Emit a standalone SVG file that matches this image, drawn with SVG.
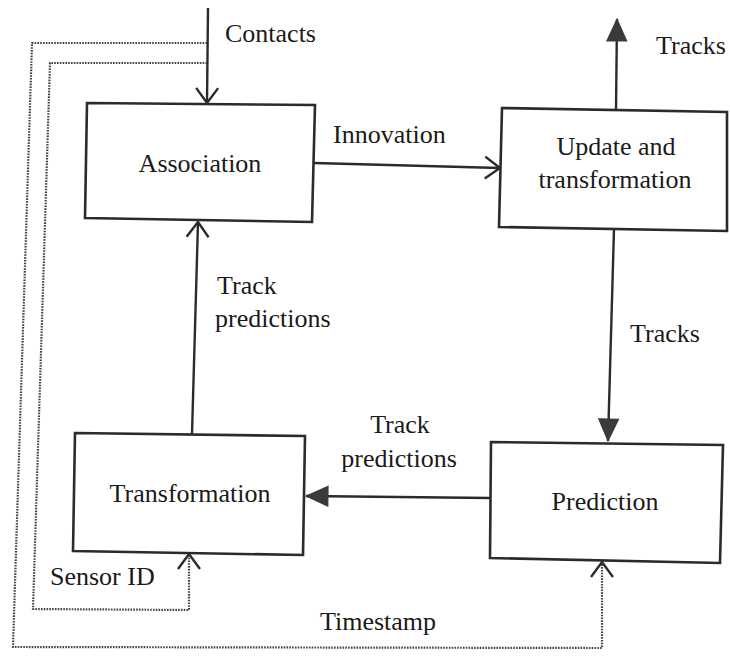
<svg xmlns="http://www.w3.org/2000/svg" width="730" height="656" viewBox="0 0 730 656">
<style>
  .box { fill: #fff; stroke: #2b2b2b; stroke-width: 2.6; stroke-linejoin: miter; }
  .lbl { font-family: "Liberation Serif", "Times New Roman", serif; font-size: 26px; fill: #1a1a1a; }
  .mid { text-anchor: middle; }
  .solid { fill: none; stroke: #2b2b2b; stroke-width: 2.4; }
  .dot { fill: none; stroke: #444; stroke-width: 2.2; stroke-dasharray: 1.6 1.2; }
</style>
<defs>
  <marker id="open" markerUnits="userSpaceOnUse" markerWidth="34" markerHeight="34" viewBox="-17 -17 34 34" refX="0" refY="0" orient="auto">
    <path d="M -15 -11 L 0 0 L -15 11" fill="none" stroke="#2b2b2b" stroke-width="2.4"/>
  </marker>
  <marker id="fill" markerUnits="userSpaceOnUse" markerWidth="30" markerHeight="30" viewBox="-25 -15 30 30" refX="0" refY="0" orient="auto">
    <path d="M -22 -10 L 0 0 L -22 10 Z" fill="#3a3a3a" stroke="#3a3a3a" stroke-width="1"/>
  </marker>
</defs>

<g id="connectors">
  <!-- Contacts -->
  <line class="solid" x1="208" y1="8" x2="207" y2="103" marker-end="url(#open)"/>
  <!-- Innovation -->
  <line class="solid" x1="314" y1="163" x2="500" y2="168" marker-end="url(#open)"/>
  <!-- Tracks out -->
  <line class="solid" x1="616" y1="110" x2="617" y2="19" marker-end="url(#fill)"/>
  <!-- Tracks down -->
  <line class="solid" x1="614" y1="229" x2="608" y2="441" marker-end="url(#fill)"/>
  <!-- Track predictions (Prediction -> Transformation) -->
  <line class="solid" x1="490" y1="498" x2="306" y2="496" marker-end="url(#fill)"/>
  <!-- Track predictions (Transformation -> Association) -->
  <line class="solid" x1="192" y1="434" x2="198" y2="222" marker-end="url(#open)"/>
  <!-- Timestamp dotted -->
  <polyline class="dot" points="207,43 32,43 13,647 602,648 602,562" marker-end="url(#open)"/>
  <!-- Sensor ID dotted -->
  <polyline class="dot" points="207,63 50,63 33,609 189,610 189,554" marker-end="url(#open)"/>
</g>

<g id="association">
  <path class="box" d="M 87 103 L 315 105 L 312 222 L 85 218 Z"/>
  <text class="lbl mid" x="200" y="172">Association</text>
</g>

<g id="update">
  <path class="box" d="M 502 108 L 727 112 L 727 231 L 499 227 Z"/>
  <text class="lbl mid" x="616" y="155">Update and</text>
  <text class="lbl mid" x="615" y="188">transformation</text>
</g>

<g id="prediction">
  <path class="box" d="M 491 442 L 723 445 L 720 563 L 490 558 Z"/>
  <text class="lbl mid" x="605" y="510">Prediction</text>
</g>

<g id="transformation">
  <path class="box" d="M 75 433 L 305 436 L 303 555 L 73 551 Z"/>
  <text class="lbl mid" x="190" y="502">Transformation</text>
</g>

<g id="labels">
  <text class="lbl" x="225" y="42">Contacts</text>
  <text class="lbl" x="333" y="143">Innovation</text>
  <text class="lbl" x="656" y="54">Tracks</text>
  <text class="lbl" x="630" y="342">Tracks</text>
  <text class="lbl" x="217" y="294">Track</text>
  <text class="lbl" x="215" y="327">predictions</text>
  <text class="lbl mid" x="400" y="433">Track</text>
  <text class="lbl mid" x="399" y="467">predictions</text>
  <text class="lbl" x="50" y="585">Sensor ID</text>
  <text class="lbl" x="320" y="630">Timestamp</text>
</g>
</svg>
